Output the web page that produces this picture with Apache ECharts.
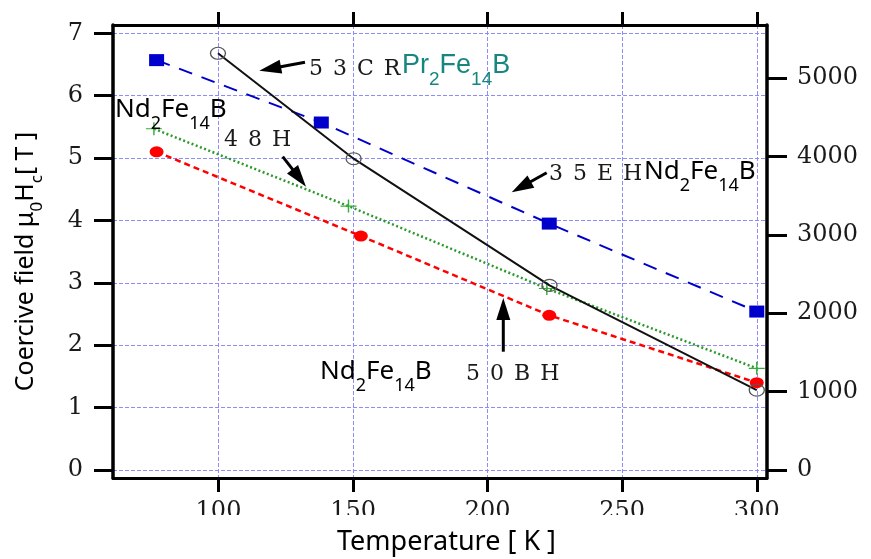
<!DOCTYPE html>
<html><head><meta charset="utf-8">
<script src="https://cdn.jsdelivr.net/npm/echarts@6/dist/echarts.min.js"></script>
<style>html,body{margin:0;padding:0;background:#fff}#c{width:871px;height:559px}</style>
</head><body><div id="c"></div>
<script>
// ---- data ----
const xTicks = [100, 150, 200, 250, 300];
const yTicksT = [0, 1, 2, 3, 4, 5, 6, 7];
const yTicksKAm = [0, 1000, 2000, 3000, 4000, 5000];

const cr53_T  = [99.8, 150.2, 223.0, 300];
const cr53_Hc = [6.68, 4.99, 2.96, 1.28];
const eh35_T  = [77.0, 138.2, 222.9, 300];
const eh35_Hc = [6.57, 5.57, 3.95, 2.54];
const h48_T   = [76.0, 148.3, 222.0, 300];
const h48_Hc  = [5.47, 4.23, 2.91, 1.63];
const bh50_T  = [77.0, 152.9, 222.9, 300];
const bh50_Hc = [5.10, 3.75, 2.48, 1.40];

const xMin = 60.8, xMax = 303.8;
const yMin = -0.128, yMax = 7.133;
const T_TO_KAM = 795.77;

// ---- helpers ----
function pts(xs, ys) { return xs.map((x, i) => [x, ys[i]]); }
const SERIF = 'DejaVu Serif';
const SANS = 'Noto Sans';

function arrow(x1, y1, x2, y2) {
  const dx = x2 - x1, dy = y2 - y1, L = Math.hypot(dx, dy), ux = dx / L, uy = dy / L;
  const hl = 22, hw = 7;
  const bx = x2 - ux * hl, by = y2 - uy * hl;
  return [
    {type: 'line', z: 50, shape: {x1: x1, y1: y1, x2: bx + ux * 3, y2: by + uy * 3}, style: {stroke: '#000', lineWidth: 3}},
    {type: 'polygon', z: 50, shape: {points: [[x2, y2], [bx - uy * hw, by + ux * hw], [bx + uy * hw, by - ux * hw]]}, style: {fill: '#000'}}
  ];
}

function spaced(str, left, cy) {
  const txt = str.split('').map(c => '{c|' + c + '}').join('');
  return {type: 'text', z: 60, x: left - 6, y: cy, style: {
    text: txt, align: 'left', verticalAlign: 'middle',
    rich: {c: {fontFamily: SERIF, fontSize: 22, fill: '#1a1a1a', padding: [0, 5, 0, 5]}}
  }};
}

// formula: parts = [[text, isSub], ...]
function formula(parts, left, baseline, fs, family, color, mid) {
  const fs2 = Math.round(fs * 0.7);
  const lh = fs + 4;
  const drop = 0.35 * fs;
  const p = lh / 2 + mid * fs + drop - mid * fs2 - fs2 / 2;
  const txt = parts.map(q => (q[1] ? '{s|' : '{m|') + q[0] + '}').join('');
  return {type: 'text', z: 60, x: left, y: baseline - (lh / 2 + mid * fs), style: {
    text: txt, align: 'left', verticalAlign: 'top',
    rich: {
      m: {fontFamily: family, fontSize: fs, fill: color, lineHeight: lh, verticalAlign: 'top'},
      s: {fontFamily: family, fontSize: fs2, fill: color, lineHeight: fs2, padding: [p, 0, 0, 0], verticalAlign: 'top'}
    }
  }};
}
const ND = [['Nd', 0], ['2', 1], ['Fe', 0], ['14', 1], ['B', 0]];
const PR = [['Pr', 0], ['2', 1], ['Fe', 0], ['14', 1], ['B', 0]];

const gridLine = {show: true, lineStyle: {color: '#8c8cff', width: 1, type: [4, 2]}};
const plainNum = v => String(Math.round(v));

const chart = echarts.init(document.getElementById('c'), null, {renderer: 'canvas'});

const yTitleFs = 25, yTitleFs2 = 17, mid = 0.388;
const yTitleP = (yTitleFs + 4) / 2 + mid * yTitleFs + 0.25 * yTitleFs - mid * yTitleFs2 - yTitleFs2 / 2;

const graphic = [].concat(
  [{type: 'rect', z: 90, shape: {x: 90, y: 515, width: 781, height: 44}, style: {fill: '#fff'}}],
  [{type: 'text', z: 95, x: 446.5, y: 542.8, style: {text: 'Temperature [ K ]', fontFamily: SANS, fontSize: 27, fill: '#000', align: 'center', verticalAlign: 'middle'}}],
  [{type: 'text', z: 95, x: 38 - ((yTitleFs + 4) / 2 + mid * yTitleFs), y: 261.5, rotation: Math.PI / 2, style: {
    text: '{m|Coercive field μ}{s|0}{m|H}{s|c}{m|[ T ]}', align: 'center', verticalAlign: 'top',
    rich: {
      m: {fontFamily: SANS, fontSize: yTitleFs, fill: '#000', lineHeight: yTitleFs + 4, verticalAlign: 'top'},
      s: {fontFamily: SANS, fontSize: yTitleFs2, fill: '#000', lineHeight: yTitleFs2, padding: [yTitleP, 0, 0, 0], verticalAlign: 'top'}
    }
  }}],
  [spaced('53CR', 310, 69.5), spaced('48H', 225, 140.5), spaced('35EH', 550, 174.7), spaced('50BH', 467, 374.3)],
  [formula(PR, 402, 77, 27, 'Liberation Sans', '#15877f', 0.3465)],
  [formula(ND, 115, 121.7, 26, SANS, '#000', mid)],
  [formula(ND, 644, 183.3, 26, SANS, '#000', mid)],
  [formula(ND, 320, 383.3, 26, SANS, '#000', mid)],
  arrow(305, 62.3, 259.3, 70.7),
  arrow(282.7, 156.7, 306, 186.7),
  arrow(546.7, 172.7, 511.7, 192.3),
  arrow(503.3, 351.7, 503.3, 298)
);

const circlePath = 'path://M0,5a5,5 0 1,0 10,0a5,5 0 1,0 -10,0z';
const plusPath = 'path://M0,5L10,5M5,0L5,10';

chart.setOption({
  animation: false,
  backgroundColor: '#fff',
  grid: {left: 113, right: 104, top: 25, bottom: 81, containLabel: false},
  xAxis: [{
    type: 'value', min: xMin, max: xMax, position: 'bottom',
    axisLine: {show: true, onZero: false, lineStyle: {color: '#000', width: 3}},
    axisTick: {show: true, inside: false, length: 14, customValues: xTicks, lineStyle: {color: '#000', width: 3}},
    axisLabel: {show: true, customValues: xTicks, formatter: plainNum, margin: 22, fontFamily: SERIF, fontSize: 24, color: '#1a1a1a'},
    splitLine: gridLine
  }, {
    type: 'value', min: xMin, max: xMax, position: 'top',
    axisLine: {show: true, onZero: false, lineStyle: {color: '#000', width: 3}},
    axisTick: {show: true, inside: false, length: 13, customValues: xTicks, lineStyle: {color: '#000', width: 3}},
    axisLabel: {show: false}, splitLine: {show: false}
  }],
  yAxis: [{
    type: 'value', min: yMin, max: yMax, position: 'left',
    axisLine: {show: true, onZero: false, lineStyle: {color: '#000', width: 3.5}},
    axisTick: {show: true, inside: false, length: 19, customValues: yTicksT, lineStyle: {color: '#000', width: 3}},
    axisLabel: {show: true, customValues: yTicksT, formatter: plainNum, margin: 30, fontFamily: SERIF, fontSize: 24, color: '#1a1a1a'},
    splitLine: gridLine
  }, {
    type: 'value', min: yMin * T_TO_KAM, max: yMax * T_TO_KAM, position: 'right',
    axisLine: {show: true, onZero: false, lineStyle: {color: '#000', width: 3.5}},
    axisTick: {show: true, inside: false, length: 20, customValues: yTicksKAm, lineStyle: {color: '#000', width: 3}},
    axisLabel: {show: true, customValues: yTicksKAm, formatter: plainNum, margin: 30, fontFamily: SERIF, fontSize: 24, color: '#1a1a1a'},
    splitLine: {show: false}
  }],
  series: [
    {name: '50BH Nd2Fe14B', type: 'line', data: pts(bh50_T, bh50_Hc), symbol: circlePath, symbolSize: [14, 11],
     lineStyle: {color: '#ff0000', width: 2.5, type: [6, 4]}, itemStyle: {color: '#ff0000', borderWidth: 0}, z: 3, silent: true},
    {name: '48H Nd2Fe14B', type: 'line', data: pts(h48_T, h48_Hc), symbol: plusPath, symbolSize: [16, 13],
     lineStyle: {color: '#2a9a2a', width: 2.5, type: [2, 2.5]}, itemStyle: {color: 'transparent', borderColor: '#33b033', borderWidth: 1.3}, z: 4, silent: true},
    {name: '35EH Nd2Fe14B', type: 'line', data: pts(eh35_T, eh35_Hc), symbol: 'rect', symbolSize: [15, 12],
     lineStyle: {color: '#0000cc', width: 2, type: [14, 10]}, itemStyle: {color: '#0000cc', borderWidth: 0}, z: 5, silent: true},
    {name: '53CR Pr2Fe14B', type: 'line', data: pts(cr53_T, cr53_Hc), symbol: circlePath, symbolSize: [15, 12],
     lineStyle: {color: '#111', width: 2}, itemStyle: {color: 'transparent', borderColor: '#555', borderWidth: 1.2}, z: 6, silent: true}
  ],
  graphic: graphic
});
</script></body></html>
